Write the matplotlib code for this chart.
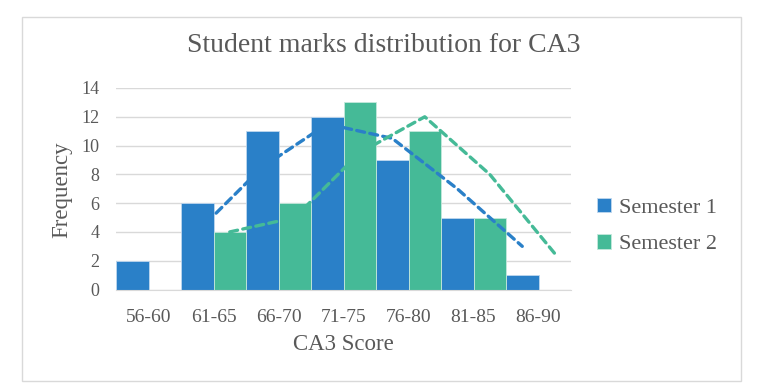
import numpy as np
import matplotlib
matplotlib.use("Agg")
import matplotlib.pyplot as plt
from matplotlib.patches import Rectangle

categories = ["56-60", "61-65", "66-70", "71-75", "76-80", "81-85", "86-90"]
semester1 = [2, 6, 11, 12, 9, 5, 1]
semester2 = [0, 4, 6, 13, 11, 5, 0]
# 2-period moving-average trendlines as drawn in the reference
trend1 = [np.nan, 4, 8.5, 11.5, 10.5, 7, 3]
trend2 = [np.nan, 4, 5, 9.5, 12, 8, 2.5]
yticks = [0, 2, 4, 6, 8, 10, 12, 14]

c1 = "#2A80C8"
c2 = "#45BA97"
txt = "#595959"
serif = ["Liberation Serif", "DejaVu Serif"]

W, H = 763, 391
fig = plt.figure(figsize=(W / 100, H / 100), dpi=100)
fig.patch.set_facecolor("white")
fig.patches.append(Rectangle((22 / W, 1 - 381 / H), (741 - 22) / W, (381 - 17) / H,
                             transform=fig.transFigure, fill=False,
                             edgecolor="#D9D9D9", linewidth=1.0))

ax = fig.add_axes([116 / W, 1 - 289.5 / H, (571 - 116) / W, (289.5 - 88) / H])
x = np.arange(len(categories))
bw = 0.5
ax.bar(x - bw / 2, semester1, width=bw, color=c1, edgecolor="#BFD7EE",
       linewidth=0.6, label="Semester 1", zorder=2)
ax.bar(x + bw / 2, semester2, width=bw, color=c2, edgecolor="#C4E8DC",
       linewidth=0.6, label="Semester 2", zorder=2)
ax.plot(x - bw / 2, trend1, color=c1, linestyle=(0, (2.4, 1.6)), linewidth=2.4,
        zorder=3, dash_capstyle="round")
ax.plot(x + bw / 2, trend2, color=c2, linestyle=(0, (2.4, 1.6)), linewidth=2.4,
        zorder=3, dash_capstyle="round")

ax.set_xlim(-0.5, len(categories) - 0.5)
ax.set_ylim(0, 14)
ax.set_yticks(yticks)
ax.set_xticks(x)
ax.set_xticklabels(categories)
ax.grid(axis="y", color="#D9D9D9", linewidth=1.0, zorder=0)
ax.set_axisbelow(True)
for s in ["top", "right", "left"]:
    ax.spines[s].set_visible(False)
ax.spines["bottom"].set_color("#D9D9D9")
ax.tick_params(axis="y", length=0, labelsize=13, colors=txt, pad=12)
ax.tick_params(axis="x", length=0, labelsize=14, colors=txt, pad=14)
for lab in ax.get_xticklabels() + ax.get_yticklabels():
    lab.set_family(serif)

fig.text(343 / W, 1 - 345 / H, "CA3 Score", family=serif, fontsize=16.5,
         color=txt, ha="center", va="center")
fig.text(62 / W, 1 - 190 / H, "Frequency", family=serif, fontsize=16.5,
         color=txt, ha="center", va="center", rotation=90)
fig.text(384 / W, 1 - 46 / H, "Student marks distribution for CA3", family=serif,
         fontsize=20, color=txt, ha="center", va="center")

leg = ax.legend(loc="center left", bbox_to_anchor=(597 / W, 1 - 226 / H),
                bbox_transform=fig.transFigure, frameon=False, borderpad=0,
                borderaxespad=0,
                prop={"family": serif, "size": 16}, handlelength=0.62,
                handleheight=0.62, handletextpad=0.35, labelspacing=0.75)
for t in leg.get_texts():
    t.set_color(txt)

fig.savefig("out.png", dpi=100)
